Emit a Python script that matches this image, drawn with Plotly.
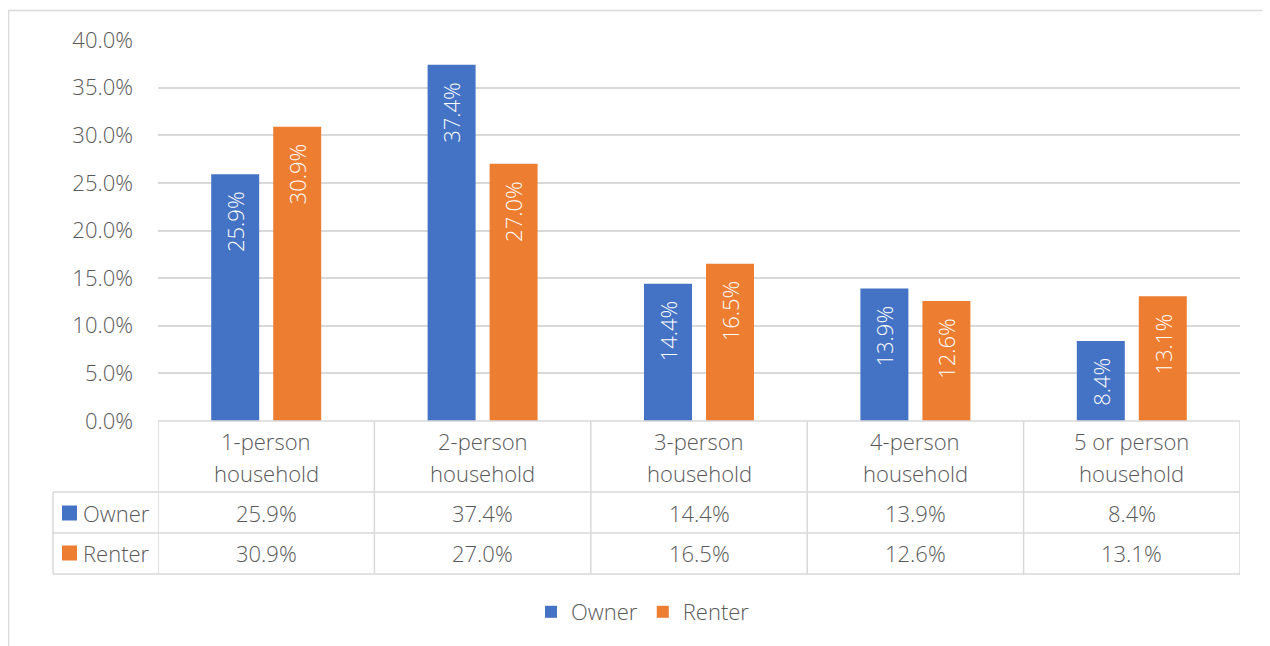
import plotly.graph_objects as go

categories = ["1-person household", "2-person household", "3-person household",
              "4-person household", "5 or person household"]
owner = [25.9, 37.4, 14.4, 13.9, 8.4]
renter = [30.9, 27.0, 16.5, 12.6, 13.1]
series_names = ["Owner", "Renter"]
series_colors = ["#4472C4", "#ED7D31"]
y_ticks = [0, 5, 10, 15, 20, 25, 30, 35, 40]

series_values = [owner, renter]

OFF = 8  # default body margin of the page
W, H = 1270 - OFF, 646 - OFF
L, R, T, B = 158 - OFF, 30, 40 - OFF, 225
plot_h = H - T - B
plot_w = W - L - R
GRAY = "#595959"
LINE = "#D9D9D9"
FONT = "Open Sans"
FS = 22
WT = 300


def py(p):
    # page pixel y -> paper fraction
    return (H - B - (p - OFF)) / plot_h


def pxx(p):
    # page pixel x -> paper fraction
    return (p - OFF - L) / plot_w


def fnt(color=GRAY, size=FS):
    return dict(family=FONT, size=size, color=color, weight=WT)


fig = go.Figure()
for name, vals, col in zip(series_names, series_values, series_colors):
    fig.add_trace(go.Bar(x=categories, y=vals, name=name, marker_color=col,
                         marker_line_width=0))

annotations = []
shapes = []

# data labels inside bar ends
offsets = [-31, 31]
for vals, off in zip(series_values, offsets):
    for c, v in zip(categories, vals):
        annotations.append(dict(x=c, y=v, xref="x", yref="y", text=f"{v:.1f}%",
                                textangle=-90, showarrow=False, xshift=off,
                                xanchor="center", yanchor="top", yshift=-15,
                                font=fnt("white")))

# table: header row
for i, c in enumerate(categories):
    a, b = c.rsplit(" ", 1)
    annotations.append(dict(x=i, y=py(441), xref="x", yref="paper", text=a,
                            xanchor="center", yanchor="middle",
                            showarrow=False, font=fnt()))
    annotations.append(dict(x=i, y=py(473), xref="x", yref="paper", text=b,
                            xanchor="center", yanchor="middle",
                            showarrow=False, font=fnt()))

row_y = [513, 553]
for r, (name, vals, col) in enumerate(zip(series_names, series_values, series_colors)):
    yy = row_y[r]
    for i, v in enumerate(vals):
        annotations.append(dict(x=i, y=py(yy), xref="x", yref="paper", text=f"{v:.1f}%",
                                xanchor="center", yanchor="middle",
                                showarrow=False, font=fnt()))
    annotations.append(dict(x=pxx(81), y=py(yy), xref="paper", yref="paper", text=name,
                            xanchor="left", yanchor="middle", showarrow=False,
                            font=fnt()))
    shapes.append(dict(type="rect", xref="paper", yref="paper",
                       x0=pxx(62), x1=pxx(77), y0=py(yy + 7.5), y1=py(yy - 7.5),
                       fillcolor=col, line=dict(width=0)))

# table lines
lw = 1.5
shapes.append(dict(type="line", xref="paper", yref="paper", x0=0, x1=1,
                   y0=py(421), y1=py(421), line=dict(color=LINE, width=lw)))
for yy in [492, 533, 574]:
    shapes.append(dict(type="line", xref="paper", yref="paper", x0=pxx(53), x1=1,
                       y0=py(yy), y1=py(yy), line=dict(color=LINE, width=lw)))
for i in range(len(categories) + 1):
    shapes.append(dict(type="line", xref="x", yref="paper", x0=i - 0.5, x1=i - 0.5,
                       y0=py(421), y1=py(574), line=dict(color=LINE, width=lw)))
shapes.append(dict(type="line", xref="paper", yref="paper", x0=pxx(53), x1=pxx(53),
                   y0=py(492), y1=py(574), line=dict(color=LINE, width=lw)))

# outer chart border
shapes.append(dict(type="rect", xref="paper", yref="paper", x0=pxx(8.5), x1=pxx(1267),
                   y0=py(660), y1=py(10.5), line=dict(color=LINE, width=1.5),
                   fillcolor="rgba(0,0,0,0)", layer="below"))

fig.update_layout(
    width=W, height=H, autosize=False,
    margin=dict(l=L, r=R, t=T, b=B),
    paper_bgcolor="white", plot_bgcolor="white",
    barmode="group", bargap=0.427, bargroupgap=0.226,
    font=fnt(),
    showlegend=True,
    legend=dict(orientation="h", x=pxx(643), xanchor="center", y=py(612), yanchor="middle",
                font=fnt(), bgcolor="rgba(0,0,0,0)"),
    annotations=annotations,
    shapes=shapes,
)
fig.update_xaxes(range=[-0.5, len(categories) - 0.5], showticklabels=False,
                 showgrid=False, zeroline=False, showline=False)
fig.update_yaxes(range=[0, 40], tickvals=y_ticks, ticktext=[f"{t:.1f}%" for t in y_ticks],
                 showgrid=True, gridcolor=LINE, gridwidth=1.5, zeroline=False,
                 showline=False, ticklabelstandoff=24,
                 tickfont=fnt())

fig.write_html("out.html")
